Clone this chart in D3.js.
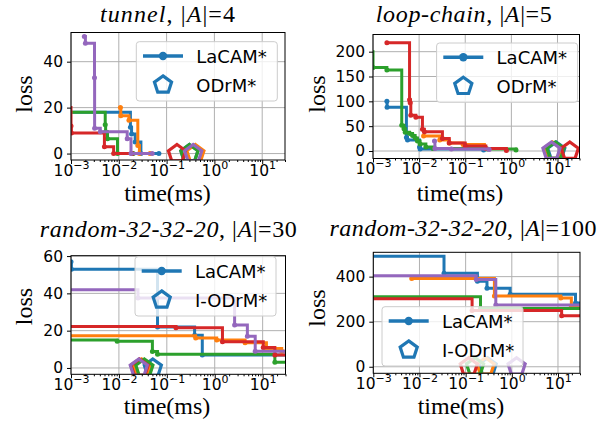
<!DOCTYPE html>
<html><head><meta charset="utf-8">
<script src="https://cdn.jsdelivr.net/npm/d3@7"></script>
<style>body{margin:0;background:#fff}svg{display:block}</style>
</head><body><svg id="c" width="610" height="424"></svg>
<script>
// ---------- data ----------
const colors = ["#1f77b4", "#ff7f0e", "#2ca02c", "#d62728", "#9467bd"];
const xTickValues = [1e-3, 1e-2, 1e-1, 1, 10];
const xTickExponents = ["\u22123", "\u22122", "\u22121", "0", "1"];
const xDomain = [1e-3, 30];

const titleParts = [
  [["tunnel", true], [", |", false], ["A", true], ["|=4", false]],
  [["loop-chain", true], [", |", false], ["A", true], ["|=5", false]],
  [["random-32-32-20", true], [", |", false], ["A", true], ["|=30", false]],
  [["random-32-32-20", true], [", |", false], ["A", true], ["|=100", false]]
];
const legendLabels = [["LaCAM*", "ODrM*"], ["LaCAM*", "ODrM*"], ["LaCAM*", "I-ODrM*"], ["LaCAM*", "I-ODrM*"]];

const yTicksTunnel = [0, 20, 40];
const yTicksLoop = [0, 50, 100, 150, 200];
const yTicksRand30 = [0, 20, 40, 60];
const yTicksRand100 = [0, 200, 400];

// LaCAM* anytime curves: [time(ms), loss] per run (blue, orange, green, red, purple)
const tunnelLaCAM = [
  [[0.0009,18],[0.0175,11.5],[0.0185,8.5],[0.022,5],[0.029,0],[0.069,0]],
  [[0.0108,20],[0.011,16.5],[0.0163,14.5],[0.025,3.5],[0.027,0],[0.045,0]],
  [[0.0009,18],[0.0052,12.5],[0.0053,9.5],[0.0058,6.5],[0.0094,0],[0.02,0]],
  [[0.0009,20],[0.001,12],[0.00102,9],[0.005,3],[0.0078,0],[0.019,0]],
  [[0.0019,51],[0.002,48],[0.0031,33],[0.00312,11],[0.0041,9.5],[0.015,6.5],[0.018,0],[0.05,0]]
];
const tunnelODrM = [0.3, 0.4, 0.3, 0.165, 0.36];

const loopLaCAM = [
  [[0.002,100],[0.00202,88],[0.0053,27],[0.0056,22],[0.0102,8],[0.0105,4],[0.25,2]],
  [[0.0125,30],[0.028,22],[0.045,16],[0.09,13],[0.26,9]],
  [[0.0009,200],[0.001,168],[0.002,163],[0.0042,52],[0.0047,45],[0.005,38],[0.0062,35],[0.0072,31],[0.0082,26],[0.0092,20],[0.0105,14],[0.014,8],[0.02,5],[0.3,4],[1.26,2]],
  [[0.002,218],[0.0062,103],[0.0064,97],[0.0066,72],[0.0085,68],[0.0118,44],[0.013,39],[0.032,25],[0.045,16],[0.1,10],[0.28,5],[0.78,1]],
  [[0.0215,20],[0.022,5],[0.05,4],[0.33,3]]
];
const loopODrM = [9.4, 7.8, 9.0, 18.5, 7.4];

const rand30LaCAM = [
  [[0.001,57],[0.00102,53],[0.064,22],[0.38,17.5],[0.55,7],[50,7]],
  [[0.0008,17.3],[0.4,16],[1.1,15],[4.3,13.5],[12,10.5],[25,9],[50,9]],
  [[0.0008,15],[0.0092,14.3],[0.05,8.8],[0.064,7.3],[18,3],[50,3]],
  [[0.0008,22.3],[0.155,21.5],[1.45,14],[10.3,11],[18,7],[50,7]],
  [[0.0008,42],[0.025,37.5],[2.6,23],[4.8,17],[7,9],[50,9]]
];
const rand30IODrM = [0.051, 0.03, 0.034, 0.027, 0.026];

const rand100LaCAM = [
  [[0.0008,490],[0.034,415],[0.18,380],[0.29,348],[0.92,322],[24,283],[50,283]],
  [[0.0068,392],[0.42,314],[11.5,305],[19.5,268],[50,268]],
  [[0.0008,311],[0.21,259],[50,259]],
  [[0.0008,302],[0.138,250],[12,226],[50,226]],
  [[0.0008,404],[0.17,387],[0.45,274],[50,274]]
];
const rand100IODrM = [0.3, 0.27, 0.16, 0.117, 1.27];

// ---------- layout ----------
const panels = [
  {lines: tunnelLaCAM, marks: tunnelODrM, yTicks: yTicksTunnel, yDom: [-2.8, 52.7],
   box: [71, 285, 32.5, 160], legend: [136.3, 41.7], title: [167.5, 22, 135], xlab: [167.5, 201], ylab: [32, 94]},
  {lines: loopLaCAM, marks: loopODrM, yTicks: yTicksLoop, yDom: [-15.1, 234.6],
   box: [373, 579.5, 34.5, 158.5], legend: [436.6, 43], title: [463.8, 22, 176], xlab: [460, 201], ylab: [325, 94]},
  {lines: rand30LaCAM, marks: rand30IODrM, yTicks: yTicksRand30, yDom: [-3.4, 60.2],
   box: [71, 285.5, 255.7, 374.3], legend: [135, 256.7], title: [168.3, 237, 257], xlab: [167, 414], ylab: [32, 306.5]},
  {lines: rand100LaCAM, marks: rand100IODrM, yTicks: yTicksRand100, yDom: [-29, 508],
   box: [373.3, 580, 252.3, 373.3], legend: [382, 306.7], title: [463, 236, 267], xlab: [461, 414], ylab: [325, 308]}
];

const svg = d3.select("#c");
const serif = "'Liberation Serif', 'Times New Roman', serif";
const sans = "'DejaVu Sans', sans-serif";

function pentagon(cx, cy, R) {
  const pts = d3.range(5).map(k => {
    const a = (-90 + 72 * k) * Math.PI / 180;
    return [cx + R * Math.cos(a), cy + R * Math.sin(a)];
  });
  return d3.line().curve(d3.curveLinearClosed)(pts);
}

const minorTicks = [];
for (let e = -3; e <= 1; e++) for (let m = 2; m <= 9; m++) { const v = m * Math.pow(10, e); if (v <= 30) minorTicks.push(v); }

panels.forEach((p, i) => {
  const [x0, x1, y0, y1] = p.box;
  const x = d3.scaleLog().domain(xDomain).range([x0, x1]);
  const y = d3.scaleLinear().domain(p.yDom).range([y1, y0]);
  const g = svg.append("g");

  const clipId = "clip" + i;
  svg.append("clipPath").attr("id", clipId).append("rect")
    .attr("x", x0).attr("y", y0).attr("width", x1 - x0).attr("height", y1 - y0);

  // grid
  g.append("g").selectAll("line").data(xTickValues).join("line")
    .attr("x1", d => x(d)).attr("x2", d => x(d)).attr("y1", y0).attr("y2", y1)
    .attr("stroke", "#b0b0b0").attr("stroke-width", 1);
  g.append("g").selectAll("line").data(p.yTicks).join("line")
    .attr("x1", x0).attr("x2", x1).attr("y1", d => y(d)).attr("y2", d => y(d))
    .attr("stroke", "#b0b0b0").attr("stroke-width", 1);

  // series
  const plot = g.append("g").attr("clip-path", `url(#${clipId})`);
  const line = d3.line().x(d => x(d[0])).y(d => y(d[1])).curve(d3.curveStepAfter);
  p.lines.forEach((s, k) => {
    plot.append("path").attr("d", line(s)).attr("fill", "none")
      .attr("stroke", colors[k]).attr("stroke-width", 3).attr("stroke-linejoin", "miter");
    plot.append("g").selectAll("circle").data(s).join("circle")
      .attr("cx", d => x(d[0])).attr("cy", d => y(d[1])).attr("r", 2.5).attr("fill", colors[k]);
    plot.append("path").attr("d", pentagon(x(p.marks[k]), y(0), 9))
      .attr("fill", "none").attr("stroke", colors[k]).attr("stroke-width", 3.2).attr("stroke-linejoin", "miter");
  });

  // spines
  g.append("rect").attr("x", x0).attr("y", y0).attr("width", x1 - x0).attr("height", y1 - y0)
    .attr("fill", "none").attr("stroke", "#000").attr("stroke-width", 1);

  // x axis
  const xa = g.append("g").attr("transform", `translate(0,${y1})`)
    .call(d3.axisBottom(x).tickValues(xTickValues).tickSize(4).tickPadding(3).tickFormat(() => ""));
  xa.select(".domain").remove();
  xa.selectAll("text").each(function(d, j) {
    const t = d3.select(this).attr("font-family", sans).attr("font-size", 15.5).attr("fill", "#000")
      .attr("dy", null).attr("y", 15.9);
    t.text(null);
    t.append("tspan").text("10");
    t.append("tspan").attr("font-size", 11).attr("dy", -7).text(xTickExponents[j]);
  });
  const xm = g.append("g").attr("transform", `translate(0,${y1})`)
    .call(d3.axisBottom(x).tickValues(minorTicks).tickSize(2).tickFormat(() => ""));
  xm.select(".domain").remove();

  // y axis
  const ya = g.append("g").attr("transform", `translate(${x0},0)`)
    .call(d3.axisLeft(y).tickValues(p.yTicks).tickSize(4).tickPadding(4));
  ya.select(".domain").remove();
  ya.selectAll("text").attr("font-family", sans).attr("font-size", 15.5).attr("fill", "#000");

  // legend
  const [bx, by] = p.legend;
  const lg = g.append("g");
  lg.append("rect").attr("x", bx).attr("y", by).attr("width", 141).attr("height", 59.3).attr("rx", 3)
    .attr("fill", "#fff").attr("fill-opacity", 0.8).attr("stroke", "#cccccc").attr("stroke-width", 1);
  lg.append("line").attr("x1", bx + 6.7).attr("x2", bx + 46.7).attr("y1", by + 14.3).attr("y2", by + 14.3)
    .attr("stroke", colors[0]).attr("stroke-width", 3.4);
  lg.append("circle").attr("cx", bx + 26.7).attr("cy", by + 14.3).attr("r", 4.2).attr("fill", colors[0]);
  lg.append("path").attr("d", pentagon(bx + 26.7, by + 43.2, 9)).attr("fill", "none")
    .attr("stroke", colors[0]).attr("stroke-width", 3.2).attr("stroke-linejoin", "miter");
  lg.append("text").attr("x", bx + 60).attr("y", by + 21).attr("font-family", sans).attr("font-size", 18).text(legendLabels[i][0]);
  lg.append("text").attr("x", bx + 60).attr("y", by + 49.8).attr("font-family", sans).attr("font-size", 18).text(legendLabels[i][1]);

  // title
  const tt = g.append("text").attr("x", p.title[0]).attr("y", p.title[1]).attr("text-anchor", "middle")
    .attr("font-family", serif).attr("font-size", 24)
    .attr("textLength", p.title[2]).attr("lengthAdjust", "spacing");
  titleParts[i].forEach(([s, it]) => tt.append("tspan").attr("font-style", it ? "italic" : "normal").text(s));

  // axis labels
  g.append("text").attr("x", p.xlab[0]).attr("y", p.xlab[1]).attr("text-anchor", "middle")
    .attr("font-family", serif).attr("font-size", 24).text("time(ms)");
  g.append("text").attr("transform", `translate(${p.ylab[0]},${p.ylab[1]}) rotate(-90)`).attr("text-anchor", "middle")
    .attr("font-family", serif).attr("font-size", 24).text("loss");
});
</script></body></html>
